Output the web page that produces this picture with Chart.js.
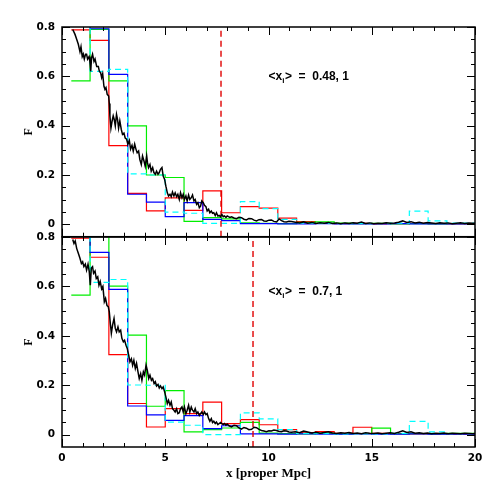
<!DOCTYPE html>
<html>
<head>
<meta charset="utf-8">
<script src="https://cdn.jsdelivr.net/npm/chart.js@4.4.0/dist/chart.umd.min.js"></script>
<style>
  html, body { margin: 0; padding: 0; background: #fff; }
  #wrap { position: relative; width: 501px; height: 501px; }
  canvas { position: absolute; left: 0; }
  #topChart { top: 0; }
  #bottomChart { top: 220px; }
</style>
</head>
<body>
<div id="wrap">
  <canvas id="topChart" width="501" height="250"></canvas>
  <canvas id="bottomChart" width="501" height="281"></canvas>
</div>
<script>
// bin edges of the step histograms (proper Mpc)
const binEdges = [0.45, 1.36, 2.27, 3.18, 4.09, 5.0, 5.91, 6.82, 7.73, 8.64, 9.55, 10.45,
  11.36, 12.27, 13.18, 14.09, 15.0, 15.91, 16.82, 17.73, 18.64, 19.55];

// top panel histograms
const topRed   = [0.788, 0.746, 0.319, 0.126, 0.055, 0.107, 0.057, 0.136, 0.047, 0.072, 0.066,
  0.025, 0.011, 0.004, 0.003, 0.004, 0.002, 0.003, 0.004, 0.003, 0.002];
const topGreen = [0.582, 0.79, 0.582, 0.399, 0.2, 0.19, 0.012, 0.027, 0.022, 0.006, 0.004,
  0.003, 0.008, 0.01, 0.005, 0.003, 0.004, 0.002, 0.003, 0.002, 0.003];
const topBlue  = [0.83, 0.793, 0.608, 0.122, 0.09, 0.031, 0.088, 0.02, 0.015, 0.003, 0.003,
  0.002, 0.002, 0.003, 0.002, 0.002, 0.002, 0.003, 0.002, 0.002, 0.002];
const topCyan  = [0.84, 0.62, 0.628, 0.205, 0.2, 0.05, 0.045, 0.004, 0.004, 0.092, 0.064,
  0.02, 0.005, 0.004, 0.003, 0.004, 0.003, 0.005, 0.054, 0.014, 0.005];

// bottom panel histograms
const botRed   = [0.795, 0.718, 0.324, 0.126, 0.031, 0.105, 0.085, 0.132, 0.045, 0.061, 0.04,
  0.02, 0.008, 0.012, 0.005, 0.03, 0.005, 0.004, 0.003, 0.004, 0.003];
const botGreen = [0.565, 0.85, 0.601, 0.403, 0.115, 0.178, 0.011, 0.02, 0.027, 0.05, 0.006,
  0.004, 0.003, 0.005, 0.003, 0.004, 0.026, 0.003, 0.004, 0.003, 0.005];
const botBlue  = [0.85, 0.738, 0.588, 0.116, 0.08, 0.058, 0.077, 0.024, 0.036, 0.003, 0.003,
  0.002, 0.003, 0.002, 0.002, 0.003, 0.002, 0.002, 0.003, 0.002, 0.002];
const botCyan  = [0.85, 0.616, 0.628, 0.201, 0.2, 0.051, 0.038, 0.0, 0.0, 0.088, 0.064,
  0.02, 0.005, 0.004, 0.003, 0.004, 0.003, 0.005, 0.054, 0.011, 0.004];

// black curves, [x, F]
const topCurve = [[0.52,0.79],[0.63,0.77],[0.71,0.75],[0.79,0.73],[0.87,0.70],[0.92,0.72],[0.98,0.68],
  [1.03,0.69],[1.08,0.67],[1.14,0.69],[1.19,0.69],[1.24,0.67],[1.31,0.68],[1.35,0.66],[1.39,0.62],
  [1.43,0.675],[1.48,0.69],[1.55,0.66],[1.60,0.67],[1.68,0.64],[1.76,0.64],[1.81,0.62],[1.87,0.615],
  [1.92,0.595],[1.97,0.61],[2.03,0.56],[2.08,0.547],[2.13,0.554],[2.19,0.527],[2.26,0.52],[2.29,0.49],
  [2.32,0.44],[2.37,0.39],[2.43,0.42],[2.48,0.44],[2.53,0.425],[2.58,0.40],[2.64,0.446],[2.69,0.425],
  [2.74,0.39],[2.80,0.42],[2.87,0.385],[2.93,0.365],[3.00,0.37],[3.06,0.35],[3.13,0.345],[3.19,0.325],
  [3.26,0.34],[3.32,0.305],[3.39,0.32],[3.45,0.297],[3.52,0.325],[3.58,0.305],[3.64,0.29],[3.71,0.297],
  [3.77,0.263],[3.84,0.243],[3.90,0.277],[3.97,0.257],[4.03,0.236],[4.10,0.277],[4.14,0.25],[4.19,0.23],
  [4.26,0.243],[4.32,0.216],[4.39,0.23],[4.45,0.21],[4.52,0.203],[4.58,0.216],[4.65,0.203],[4.71,0.21],
  [4.77,0.223],[4.84,0.23],[4.90,0.196],[4.97,0.182],[5.03,0.155],[5.10,0.128],[5.16,0.115],[5.23,0.122],
  [5.29,0.112],[5.35,0.131],[5.42,0.115],[5.48,0.128],[5.55,0.112],[5.61,0.122],[5.68,0.101],[5.74,0.128],
  [5.81,0.108],[5.87,0.122],[5.93,0.101],[6.00,0.115],[6.06,0.095],[6.13,0.119],[6.19,0.101],[6.26,0.108],
  [6.32,0.119],[6.39,0.095],[6.45,0.101],[6.52,0.081],[6.58,0.088],[6.65,0.068],[6.71,0.074],[6.77,0.095],
  [6.84,0.088],[6.90,0.077],[6.97,0.072],[7.03,0.054],[7.10,0.061],[7.16,0.047],[7.23,0.054],[7.29,0.045],
  [7.35,0.047],[7.42,0.036],[7.48,0.047],[7.55,0.034],[7.61,0.036],[7.68,0.031],[7.74,0.04],[7.81,0.031],
  [7.87,0.034],[7.94,0.028],[8.00,0.034],[8.06,0.031],[8.13,0.028],[8.21,0.031],[8.33,0.026],[8.45,0.023],
  [8.57,0.029],[8.69,0.027],[8.81,0.021],[8.93,0.018],[9.05,0.024],[9.18,0.023],[9.30,0.017],[9.42,0.014],
  [9.54,0.019],[9.66,0.020],[9.78,0.014],[9.90,0.013],[10.02,0.017],[10.14,0.018],[10.26,0.012],[10.39,0.010],
  [10.51,0.022],[10.63,0.015],[10.75,0.011],[10.87,0.010],[10.99,0.013],[11.11,0.012],[11.3,0.009],
  [11.5,0.006],[11.7,0.010],[11.9,0.005],[12.1,0.008],[12.3,0.004],[12.5,0.007],[12.7,0.005],[12.9,0.008],
  [13.1,0.004],[13.3,0.006],[13.5,0.003],[13.7,0.006],[13.9,0.004],[14.1,0.007],[14.3,0.005],[14.5,0.009],
  [14.7,0.004],[14.9,0.006],[15.1,0.003],[15.3,0.005],[15.5,0.004],[15.7,0.007],[15.9,0.005],[16.1,0.006],
  [16.3,0.009],[16.5,0.014],[16.7,0.008],[16.9,0.011],[17.1,0.006],[17.3,0.009],[17.5,0.005],[17.7,0.008],
  [17.9,0.006],[18.1,0.004],[18.3,0.007],[18.5,0.005],[18.7,0.006],[18.9,0.003],[19.1,0.005],[19.3,0.007],
  [19.5,0.004],[19.7,0.006],[19.9,0.005],[20.0,0.005]];

const bottomCurve = [[0.52,0.79],[0.58,0.774],[0.64,0.784],[0.71,0.754],[0.79,0.734],[0.87,0.714],
  [0.94,0.693],[1.00,0.70],[1.06,0.68],[1.13,0.69],[1.19,0.666],[1.26,0.69],[1.32,0.66],[1.37,0.605],
  [1.42,0.674],[1.48,0.68],[1.53,0.653],[1.60,0.662],[1.66,0.632],[1.73,0.639],[1.79,0.605],[1.85,0.62],
  [1.92,0.59],[1.98,0.60],[2.05,0.538],[2.11,0.551],[2.18,0.522],[2.24,0.518],[2.29,0.497],[2.34,0.45],
  [2.39,0.41],[2.45,0.443],[2.52,0.47],[2.58,0.43],[2.64,0.416],[2.71,0.436],[2.77,0.416],[2.84,0.423],
  [2.90,0.39],[2.97,0.376],[3.03,0.382],[3.10,0.362],[3.16,0.349],[3.23,0.322],[3.29,0.295],[3.36,0.307],
  [3.42,0.281],[3.48,0.301],[3.55,0.268],[3.61,0.288],[3.68,0.254],[3.74,0.227],[3.81,0.247],[3.87,0.22],
  [3.94,0.254],[4.00,0.241],[4.07,0.281],[4.13,0.261],[4.20,0.227],[4.26,0.241],[4.33,0.22],[4.39,0.227],
  [4.46,0.207],[4.52,0.214],[4.58,0.197],[4.65,0.203],[4.71,0.189],[4.77,0.197],[4.84,0.186],[4.90,0.193],
  [4.97,0.173],[5.03,0.153],[5.10,0.126],[5.16,0.139],[5.23,0.119],[5.29,0.132],[5.35,0.105],[5.42,0.099],
  [5.48,0.092],[5.55,0.105],[5.61,0.085],[5.68,0.089],[5.74,0.105],[5.81,0.112],[5.87,0.092],[5.93,0.112],
  [6.00,0.085],[6.06,0.099],[6.13,0.119],[6.19,0.092],[6.26,0.112],[6.32,0.099],[6.39,0.092],[6.45,0.105],
  [6.52,0.085],[6.58,0.092],[6.65,0.078],[6.71,0.085],[6.77,0.092],[6.84,0.081],[6.90,0.092],[6.97,0.081],
  [7.03,0.085],[7.10,0.065],[7.16,0.054],[7.23,0.065],[7.29,0.049],[7.35,0.054],[7.42,0.045],[7.48,0.051],
  [7.55,0.041],[7.61,0.045],[7.68,0.049],[7.74,0.045],[7.81,0.041],[7.87,0.045],[7.94,0.038],[8.00,0.043],
  [8.09,0.036],[8.21,0.031],[8.33,0.038],[8.45,0.036],[8.57,0.027],[8.69,0.022],[8.81,0.029],[8.93,0.026],
  [9.05,0.020],[9.18,0.022],[9.30,0.030],[9.42,0.028],[9.54,0.021],[9.66,0.017],[9.78,0.015],[9.90,0.012],
  [10.02,0.016],[10.14,0.015],[10.26,0.019],[10.39,0.017],[10.51,0.013],[10.63,0.012],[10.75,0.016],
  [10.87,0.015],[10.99,0.011],[11.11,0.010],[11.3,0.012],[11.5,0.008],[11.7,0.015],[11.9,0.011],
  [12.1,0.007],[12.3,0.010],[12.5,0.006],[12.7,0.009],[12.9,0.012],[13.1,0.007],[13.3,0.005],[13.5,0.008],
  [13.7,0.006],[13.9,0.009],[14.1,0.005],[14.3,0.007],[14.5,0.004],[14.7,0.008],[14.9,0.006],[15.1,0.005],
  [15.3,0.007],[15.5,0.004],[15.7,0.006],[15.9,0.008],[16.1,0.005],[16.3,0.010],[16.5,0.016],[16.7,0.009],
  [16.9,0.012],[17.1,0.006],[17.3,0.008],[17.5,0.005],[17.7,0.007],[17.9,0.004],[18.1,0.006],[18.3,0.005],
  [18.5,0.007],[18.7,0.004],[18.9,0.006],[19.1,0.005],[19.3,0.004],[19.5,0.006],[19.7,0.005],[19.9,0.004],
  [20.0,0.005]];

// mean positions (dashed verticals) and panel labels
const topMarker = 7.7;
const bottomMarker = 9.25;
const topLabel = '0.48, 1';
const bottomLabel = '0.7, 1';

// axis ticks
const xTickValues = [0, 5, 10, 15, 20];
const xTickLabels = ['0', '5', '10', '15', '20'];
const yTickValues = [0, 0.2, 0.4, 0.6, 0.8];
const yTickLabels = ['0', '0.2', '0.4', '0.6', '0.8'];

const Y_MIN = -0.05, Y_MAX = 0.8;

function histPoints(vals) {
  return binEdges.map((e, i) => ({ x: e, y: vals[i < vals.length ? i : vals.length - 1] }))
    .concat([{ x: 20.45, y: vals[vals.length - 1] }]);
}

function histSet(vals, color, dashed) {
  return {
    data: histPoints(vals),
    borderColor: color,
    borderWidth: 1.2,
    borderDash: dashed ? [6, 4] : [],
    stepped: 'before',
    pointRadius: 0,
    fill: false,
    clip: 0
  };
}

// frame, inward ticks and the <x_i> label
const frameTicks = {
  id: 'frameTicks',
  afterDatasetsDraw(chart, args, opts) {
    const { ctx, chartArea: a, scales: { x, y } } = chart;
    ctx.save();
    ctx.strokeStyle = '#000';
    ctx.lineWidth = 1;
    ctx.beginPath();
    for (let v = 0; v <= 20; v += 1) {
      const px = Math.round(x.getPixelForValue(v)) + 0.5;
      const len = v % 5 === 0 ? 8 : 4;
      ctx.moveTo(px, a.bottom); ctx.lineTo(px, a.bottom - len);
      ctx.moveTo(px, a.top); ctx.lineTo(px, a.top + len);
    }
    for (let k = 0; k <= 16; k++) {
      const v = k * 0.05;
      const py = Math.round(y.getPixelForValue(v)) + 0.5;
      const len = k % 4 === 0 ? 8 : 4;
      ctx.moveTo(a.left, py); ctx.lineTo(a.left + len, py);
      ctx.moveTo(a.right, py); ctx.lineTo(a.right - len, py);
    }
    ctx.stroke();
    ctx.lineWidth = 1.5;
    ctx.strokeRect(a.left, a.top, a.right - a.left, a.bottom - a.top);

    // label
    const tx = x.getPixelForValue(opts.lx);
    const ty = y.getPixelForValue(opts.ly);
    ctx.fillStyle = '#000';
    ctx.textBaseline = 'middle';
    ctx.textAlign = 'left';
    const big = 'bold 12px "Liberation Sans"';
    const small = 'bold 8px "Liberation Sans"';
    ctx.font = big;
    let cx = tx;
    ctx.fillText('<x', cx, ty);
    cx += ctx.measureText('<x').width;
    ctx.font = small;
    ctx.fillText('i', cx, ty + 4);
    cx += ctx.measureText('i').width + 0.5;
    ctx.font = big;
    ctx.fillText('>  =  ' + opts.text, cx, ty);
    ctx.restore();
  }
};

function makeChart(id, curve, hists, marker, label, isBottom) {
  const datasets = [
    {
      data: curve.map(p => ({ x: p[0], y: p[1] })),
      borderColor: '#000',
      borderWidth: 1.5,
      pointRadius: 0,
      fill: false,
      tension: 0,
      clip: 0
    },
    {
      data: [{ x: marker, y: Y_MIN }, { x: marker, y: Y_MAX }],
      borderColor: '#e00000',
      borderWidth: 1.4,
      borderDash: [6, 4],
      pointRadius: 0,
      fill: false
    },
    histSet(hists[3], '#00ffff', true),
    histSet(hists[2], '#0000ff', false),
    histSet(hists[1], '#00ee00', false),
    histSet(hists[0], '#ff0000', false)
  ];

  return new Chart(document.getElementById(id), {
    type: 'line',
    data: { datasets },
    plugins: [frameTicks],
    options: {
      responsive: false,
      animation: false,
      events: [],
      layout: { padding: isBottom ? { top: 17, right: 26, bottom: 0, left: 0 }
                                  : { top: 27, right: 26, bottom: 13, left: 0 } },
      plugins: {
        legend: { display: false },
        tooltip: { enabled: false },
        frameTicks: { lx: 10, ly: isBottom ? 0.58 : 0.6, text: label }
      },
      scales: {
        x: {
          type: 'linear',
          min: 0, max: 20,
          display: isBottom,
          grid: { display: false, drawTicks: false },
          border: { display: false },
          afterBuildTicks: s => { s.ticks = xTickValues.map(v => ({ value: v })); },
          afterFit: s => { s.height = isBottom ? 54 : 0; },
          ticks: {
            color: '#000',
            padding: 5,
            maxRotation: 0,
            font: { family: '"DejaVu Sans"', size: 10.5, weight: 'bold' },
            callback: (v) => xTickLabels[xTickValues.indexOf(v)]
          },
          title: {
            display: isBottom,
            text: 'x [proper Mpc]',
            color: '#000',
            font: { family: '"Liberation Serif"', size: 13, weight: 'bold' },
            padding: { top: 0, bottom: 20 }
          }
        },
        y: {
          type: 'linear',
          min: Y_MIN, max: Y_MAX,
          grid: { display: false, drawTicks: false },
          border: { display: false },
          afterBuildTicks: s => { s.ticks = yTickValues.map(v => ({ value: v })); },
          afterFit: s => { s.width = 62; },
          ticks: {
            color: '#000',
            padding: 7,
            font: { family: '"DejaVu Sans"', size: 10.5, weight: 'bold' },
            callback: (v) => yTickLabels[yTickValues.indexOf(v)]
          },
          title: {
            display: true,
            text: 'F',
            color: '#000',
            font: { family: '"Liberation Serif"', size: 12, weight: 'bold' },
            padding: { top: 22, bottom: 0 }
          }
        }
      }
    }
  });
}

makeChart('topChart', topCurve, [topRed, topGreen, topBlue, topCyan], topMarker, topLabel, false);
makeChart('bottomChart', bottomCurve, [botRed, botGreen, botBlue, botCyan], bottomMarker, bottomLabel, true);
</script>
</body>
</html>
